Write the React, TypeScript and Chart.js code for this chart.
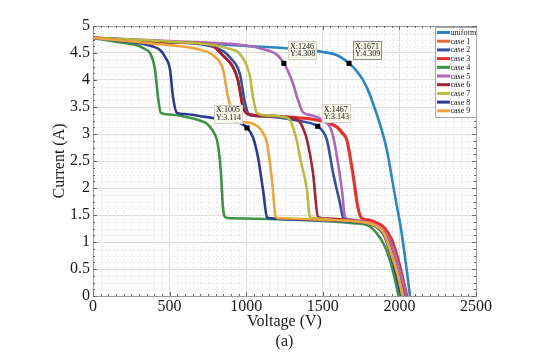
import React, { useEffect, useRef } from "react";
import { Chart, registerables } from "chart.js";

Chart.register(...registerables);

// ---- Data (Voltage V, Current A) ----
const seriesNames = ["uniform", "case 1", "case 2", "case 3", "case 4", "case 5", "case 6", "case 7", "case 8", "case 9"];
const seriesColors = ["#2b86c5", "#e2653a", "#3350a5", "#ee2b2b", "#3b9444", "#b066b8", "#9e2437", "#b7bd3c", "#2d3a94", "#eca43c"];

const uniformV = [0, 300, 700, 1000, 1300, 1500, 1600, 1671, 1720, 1760, 1800, 1830, 1860, 1890, 1920, 1950, 1980, 2010, 2040, 2069];
const uniformI = [4.78, 4.74, 4.68, 4.63, 4.58, 4.52, 4.45, 4.309, 4.17, 4.01, 3.78, 3.55, 3.3, 3.02, 2.68, 2.2, 1.72, 1.25, 0.65, 0];

const case1V = [0, 500, 764, 849, 914, 946, 979, 1012, 1100, 1351, 1450, 1527, 1595, 1625, 1655, 1693, 1726, 1752, 1800, 1850, 1900, 1950, 2000, 2045];
const case1I = [4.78, 4.7, 4.66, 4.45, 4.24, 4.0, 3.5, 3.36, 3.33, 3.29, 3.26, 3.21, 3.11, 3.01, 2.88, 2.28, 1.65, 1.44, 1.41, 1.36, 1.27, 1.04, 0.58, 0];

const case2V = [0, 500, 800, 900, 960, 990, 1020, 1100, 1351, 1467, 1500, 1527, 1567, 1612, 1632, 1660, 1750, 1850, 1900, 1950, 1990, 2035];
const case2I = [4.78, 4.7, 4.6, 4.4, 4.1, 3.6, 3.36, 3.33, 3.24, 3.143, 3.05, 2.89, 2.28, 1.72, 1.46, 1.42, 1.38, 1.29, 1.17, 0.8, 0.42, 0];

const case3V = [0, 500, 764, 849, 914, 946, 979, 1012, 1100, 1351, 1450, 1527, 1599, 1630, 1658, 1697, 1730, 1756, 1800, 1850, 1900, 1950, 2000, 2050];
const case3I = [4.78, 4.7, 4.66, 4.45, 4.24, 4.0, 3.5, 3.37, 3.34, 3.3, 3.27, 3.22, 3.12, 3.02, 2.89, 2.28, 1.65, 1.44, 1.41, 1.36, 1.27, 1.05, 0.6, 0];

const case4V = [0, 150, 300, 340, 372, 405, 424, 443, 500, 600, 698, 740, 764, 790, 809, 825, 835, 848, 862, 900, 1200, 1500, 1700, 1800, 1850, 1900, 1950, 1995];
const case4I = [4.78, 4.71, 4.63, 4.57, 4.5, 4.19, 3.69, 3.39, 3.36, 3.32, 3.25, 3.2, 3.13, 3.02, 2.89, 2.6, 2.28, 1.65, 1.46, 1.44, 1.42, 1.39, 1.35, 1.3, 1.17, 0.95, 0.55, 0];

const case5V = [0, 500, 1000, 1100, 1200, 1246, 1275, 1305, 1338, 1371, 1436, 1501, 1547, 1570, 1593, 1625, 1645, 1670, 1750, 1850, 1900, 1950, 2000, 2045];
const case5I = [4.78, 4.72, 4.64, 4.58, 4.47, 4.308, 4.15, 3.94, 3.63, 3.4, 3.34, 3.26, 3.13, 2.92, 2.57, 1.96, 1.46, 1.42, 1.39, 1.3, 1.19, 0.95, 0.5, 0];

const case6V = [0, 500, 764, 849, 914, 946, 979, 1012, 1100, 1300, 1351, 1375, 1397, 1436, 1469, 1500, 1750, 1850, 1900, 1950, 1990, 2030];
const case6I = [4.78, 4.7, 4.66, 4.45, 4.24, 4.0, 3.5, 3.37, 3.34, 3.3, 3.22, 3.08, 2.89, 2.28, 1.46, 1.44, 1.37, 1.29, 1.17, 0.8, 0.42, 0];

const case7V = [0, 500, 875, 973, 1025, 1044, 1070, 1150, 1266, 1290, 1305, 1330, 1351, 1397, 1416, 1440, 1600, 1750, 1850, 1900, 1950, 1990, 2025];
const case7I = [4.78, 4.71, 4.59, 4.43, 4.06, 3.69, 3.39, 3.34, 3.3, 3.24, 3.13, 2.88, 2.57, 1.96, 1.46, 1.44, 1.4, 1.37, 1.29, 1.16, 0.78, 0.4, 0];

const case8V = [0, 200, 392, 440, 470, 503, 522, 548, 600, 700, 800, 914, 970, 1005, 1044, 1077, 1110, 1136, 1160, 1200, 1500, 1750, 1850, 1900, 1950, 1980, 2010];
const case8I = [4.78, 4.72, 4.62, 4.55, 4.43, 4.19, 3.69, 3.39, 3.37, 3.33, 3.29, 3.24, 3.19, 3.114, 2.94, 2.57, 1.96, 1.46, 1.44, 1.43, 1.4, 1.36, 1.28, 1.12, 0.7, 0.38, 0];

const case9V = [0, 400, 698, 796, 849, 881, 907, 940, 1000, 1044, 1080, 1103, 1136, 1168, 1194, 1220, 1500, 1750, 1850, 1900, 1950, 1990, 2020];
const case9I = [4.78, 4.67, 4.56, 4.43, 4.19, 3.69, 3.42, 3.25, 3.22, 3.19, 3.13, 3.05, 2.83, 2.15, 1.46, 1.44, 1.41, 1.37, 1.29, 1.15, 0.75, 0.38, 0];

const seriesV = [uniformV, case1V, case2V, case3V, case4V, case5V, case6V, case7V, case8V, case9V];
const seriesI = [uniformI, case1I, case2I, case3I, case4I, case5I, case6I, case7I, case8I, case9I];

// Data-tip markers
const tipX = [1246, 1671, 1005, 1467];
const tipY = [4.308, 4.309, 3.114, 3.143];
const tipLeftSide = [false, false, true, false];

const xTicks = [0, 500, 1000, 1500, 2000, 2500];
const yTicks = [0, 0.5, 1, 1.5, 2, 2.5, 3, 3.5, 4, 4.5, 5];

const SERIF = "'Liberation Serif', 'Times New Roman', serif";

const framePlugin = {
  id: "matlabFrame",
  beforeDatasetsDraw(chart: any) {
    const { ctx, chartArea: a, scales } = chart;
    const xs = scales.x, ys = scales.y;
    ctx.save();
    ctx.beginPath();
    ctx.rect(a.left, a.top, a.right - a.left, a.bottom - a.top);
    ctx.clip();
    ctx.strokeStyle = "#ececec";
    ctx.lineWidth = 1;
    ctx.setLineDash([2, 2]);
    for (let v = 50; v < 2500; v += 50) {
      if (v % 500 === 0) continue;
      const px = Math.round(xs.getPixelForValue(v)) + 0.5;
      ctx.beginPath();
      ctx.moveTo(px, a.top);
      ctx.lineTo(px, a.bottom);
      ctx.stroke();
    }
    for (let k = 1; k < 40; k++) {
      if (k % 4 === 0) continue;
      const py = Math.round(ys.getPixelForValue(k * 0.125)) + 0.5;
      ctx.beginPath();
      ctx.moveTo(a.left, py);
      ctx.lineTo(a.right, py);
      ctx.stroke();
    }
    ctx.restore();
  },
  afterDatasetsDraw(chart: any) {
    const { ctx, chartArea: a, scales } = chart;
    const xs = scales.x, ys = scales.y;
    ctx.save();
    // frame
    ctx.strokeStyle = "#9a9a9a";
    ctx.lineWidth = 1;
    ctx.setLineDash([]);
    ctx.strokeRect(Math.round(a.left) + 0.5, Math.round(a.top) + 0.5, Math.round(a.right - a.left), Math.round(a.bottom - a.top));
    // inward ticks
    ctx.strokeStyle = "#666";
    for (let v = 0; v <= 2500; v += 50) {
      const px = Math.round(xs.getPixelForValue(v)) + 0.5;
      const len = v % 500 === 0 ? 4 : 2;
      ctx.beginPath();
      ctx.moveTo(px, a.bottom);
      ctx.lineTo(px, a.bottom - len);
      ctx.moveTo(px, a.top);
      ctx.lineTo(px, a.top + len);
      ctx.stroke();
    }
    for (let k = 0; k <= 40; k++) {
      const py = Math.round(ys.getPixelForValue(k * 0.125)) + 0.5;
      const len = k % 4 === 0 ? 4 : 2;
      ctx.beginPath();
      ctx.moveTo(a.left, py);
      ctx.lineTo(a.left + len, py);
      ctx.moveTo(a.right, py);
      ctx.lineTo(a.right - len, py);
      ctx.stroke();
    }
    // data tips
    ctx.font = `8px ${SERIF}`;
    ctx.textBaseline = "middle";
    ctx.textAlign = "left";
    for (let i = 0; i < tipX.length; i++) {
      const mx = xs.getPixelForValue(tipX[i]);
      const my = ys.getPixelForValue(tipY[i]);
      const w = 28, h = 18;
      const bx = tipLeftSide[i] ? mx - 5 - w : mx + 4;
      const by = my - 4 - h - (tipLeftSide[i] ? 1 : 0);
      ctx.fillStyle = "#f8f7e6";
      ctx.fillRect(bx, by, w, h);
      ctx.strokeStyle = i === 1 ? "#8c8c8c" : "#d2d2c8";
      ctx.strokeRect(Math.round(bx) + 0.5, Math.round(by) + 0.5, w, h);
      ctx.fillStyle = "#111";
      ctx.fillText("X:" + tipX[i], bx + 2, by + 5.5);
      ctx.fillText("Y:" + tipY[i], bx + 2, by + 13);
    }
    // legend
    const lx = 435, ly = 27, lw = 41, lh = 90;
    ctx.fillStyle = "#ffffff";
    ctx.fillRect(lx, ly, lw, lh);
    ctx.strokeStyle = "#a8a8a8";
    ctx.lineWidth = 1;
    ctx.strokeRect(lx + 0.5, ly + 0.5, lw, lh);
    ctx.font = `8px ${SERIF}`;
    for (let i = 0; i < seriesNames.length; i++) {
      const cy = 32.5 + i * 8.7;
      ctx.strokeStyle = seriesColors[i];
      ctx.lineWidth = 3;
      ctx.beginPath();
      ctx.moveTo(437, cy);
      ctx.lineTo(450, cy);
      ctx.stroke();
      ctx.fillStyle = "#111";
      ctx.fillText(seriesNames[i], 450.5, cy + 0.5);
    }
    ctx.restore();
  },
};

export default function App() {
  const canvasRef = useRef<HTMLCanvasElement | null>(null);

  useEffect(() => {
    if (!canvasRef.current) return;
    const datasets: any[] = seriesNames.map((name, i) => ({
      label: name,
      data: seriesV[i].map((v, j) => ({ x: v, y: seriesI[i][j] })),
      borderColor: seriesColors[i],
      backgroundColor: seriesColors[i],
      borderWidth: 2.6,
      pointRadius: 0,
      fill: false,
      cubicInterpolationMode: "monotone",
      order: 20 - i,
    }));
    datasets.push({
      label: "tips",
      type: "scatter",
      data: tipX.map((v, j) => ({ x: v, y: tipY[j] })),
      pointStyle: "rect",
      pointRadius: 3.6,
      backgroundColor: "#000",
      borderColor: "#000",
      borderWidth: 0,
      showLine: false,
      order: 0,
    });

    const chart = new Chart(canvasRef.current, {
      type: "line",
      data: { datasets },
      options: {
        animation: false,
        responsive: false,
        events: [],
        layout: { padding: { top: 26, right: 77, left: 0, bottom: 0 } },
        plugins: { legend: { display: false }, tooltip: { enabled: false } },
        scales: {
          x: {
            type: "linear",
            min: 0,
            max: 2500,
            afterBuildTicks: (scale: any) => {
              scale.ticks = xTicks.map((v) => ({ value: v }));
            },
            afterFit: (scale: any) => {
              scale.height = 57;
            },
            ticks: {
              font: { family: SERIF, size: 16 },
              color: "#1a1a1a",
              padding: 1,
              maxRotation: 0,
              autoSkip: false,
              callback: (v: any) => String(v),
            },
            grid: { color: "#dcdcdc", lineWidth: 1, drawTicks: false },
            border: { display: false },
            title: {
              display: true,
              text: ["Voltage (V)", "(a)"],
              font: { family: SERIF, size: 16, lineHeight: 1.25 },
              color: "#1a1a1a",
              padding: { top: 0, bottom: 1 },
            },
          },
          y: {
            type: "linear",
            min: 0,
            max: 5,
            afterBuildTicks: (scale: any) => {
              scale.ticks = yTicks.map((v) => ({ value: v }));
            },
            afterFit: (scale: any) => {
              scale.width = 93;
            },
            ticks: {
              font: { family: SERIF, size: 16 },
              color: "#1a1a1a",
              padding: 3,
              autoSkip: false,
              callback: (v: any) => String(v),
            },
            grid: { color: "#dcdcdc", lineWidth: 1, drawTicks: false },
            border: { display: false },
            title: {
              display: true,
              text: "Current (A)",
              font: { family: SERIF, size: 16, lineHeight: 1 },
              color: "#1a1a1a",
              padding: { top: 52, bottom: 0 },
            },
          },
        },
      },
      plugins: [framePlugin],
    } as any);
    return () => chart.destroy();
  }, []);

  return (
    <div style={{ position: "absolute", left: 0, top: 0, width: 553, height: 353, background: "#fff" }}>
      <canvas ref={canvasRef} width={553} height={353} style={{ display: "block", width: 553, height: 353 }} />
    </div>
  );
}
